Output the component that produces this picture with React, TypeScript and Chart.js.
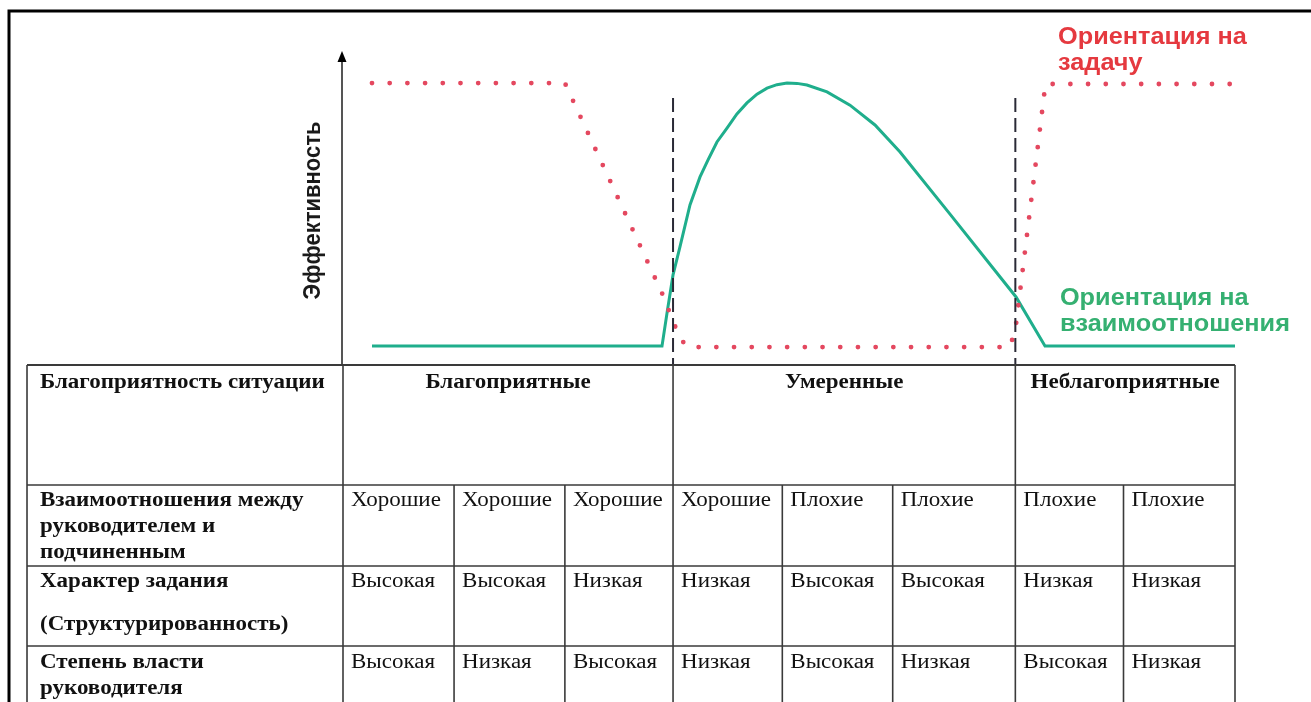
import React, { useEffect, useRef } from 'react';
import { Chart, registerables } from 'chart.js';

Chart.register(...registerables);

// ---------- data ----------
const axisTitle = 'Эффективность';
const taskSeriesName = ['Ориентация на', 'задачу'];
const relationSeriesName = ['Ориентация на', 'взаимоотношения'];

// task-oriented leader effectiveness (dotted red)
const taskX = [0.26, 1.99, 2.86, 3.02, 3.09, 5.98, 6.03, 6.3, 8.0];
const taskY = [89.5, 89.5, 22.9, 8.6, 5.7, 5.7, 11.1, 89.2, 89.2];

// relationship-oriented leader effectiveness (solid green)
const relX = [0.26, 2.861, 2.906, 2.96, 3.022, 3.112, 3.202, 3.274, 3.354, 3.444, 3.533, 3.623, 3.713, 3.803, 3.892, 3.982, 4.072, 4.161, 4.341, 4.547, 4.771, 4.996, 5.444, 6.036, 6.296, 8.0];
const relY = [6.0, 6.0, 16.5, 28.6, 37.5, 50.8, 59.7, 65.1, 70.8, 75.2, 79.7, 83.2, 86.0, 87.9, 89.0, 89.5, 89.4, 88.9, 86.7, 82.5, 76.2, 67.6, 47.9, 21.6, 6.0, 6.0];

// zone separators (dashed)
const boundaryX = [2.96, 6.03];
const boundaryTop = 84.8;

// table
const columnEdges = [0, 0.996, 1.99, 2.96, 3.94, 4.93, 6.03, 7.0, 8];
const situationHeader = 'Благоприятность ситуации';
const situationGroups = ['Благоприятные', 'Умеренные', 'Неблагоприятные'];
const groupSpans = [[0, 3], [3, 6], [6, 8]];
const rowLabels = [
  ['Взаимоотношения между', 'руководителем и', 'подчиненным'],
  ['Характер задания', '(Структурированность)'],
  ['Степень власти', 'руководителя'],
];
const relations = ['Хорошие', 'Хорошие', 'Хорошие', 'Хорошие', 'Плохие', 'Плохие', 'Плохие', 'Плохие'];
const taskStructure = ['Высокая', 'Высокая', 'Низкая', 'Низкая', 'Высокая', 'Высокая', 'Низкая', 'Низкая'];
const positionPower = ['Высокая', 'Низкая', 'Высокая', 'Низкая', 'Высокая', 'Низкая', 'Высокая', 'Низкая'];
const rowValues = [relations, taskStructure, positionPower];

// ---------- layout / style ----------
const W = 1311;
const H = 702;
const SERIF = '"Liberation Serif", "Times New Roman", serif';
const SANS = '"Liberation Sans", Arial, sans-serif';
const RED_DOT = '#e4485f';
const RED_TEXT = '#e5393f';
const GREEN_LINE = '#1fae8c';
const GREEN_TEXT = '#35b071';
const labelColumnLeft = -2.834;
const headerRowHeight = 120;
const rowHeights = [81, 80, 80];
const rowLineOffsets = [[21, 47, 73], [21, 64], [22, 48]];
const serifStretch = 1.15;
const sansStretch = 1.1;
const taskLabelAnchor = { x: 6.413, y: 101.9 };
const relLabelAnchor = { x: 6.43, y: 19.05 };
const labelLineGap = 26;

function sText(ctx: CanvasRenderingContext2D, text: string, x: number, y: number, align: CanvasTextAlign, sx: number) {
  ctx.save();
  ctx.translate(x, y);
  ctx.scale(sx, 1);
  ctx.textAlign = align;
  ctx.fillText(text, 0, 0);
  ctx.restore();
}

const overlayPlugin = {
  id: 'fiedlerOverlay',
  beforeDatasetsDraw(chart: any) {
    const { ctx, chartArea, scales } = chart;
    const xs = scales.x;
    ctx.save();
    // outer frame
    ctx.strokeStyle = '#000';
    ctx.lineWidth = 3;
    ctx.strokeRect(9, 11, chart.width + 40, chart.height + 40);
    // y axis with arrow
    const ax = xs.getPixelForValue(0) - 1;
    ctx.strokeStyle = '#555';
    ctx.lineWidth = 2;
    ctx.beginPath();
    ctx.moveTo(ax, chartArea.bottom);
    ctx.lineTo(ax, chartArea.top + 8);
    ctx.stroke();
    ctx.fillStyle = '#000';
    ctx.beginPath();
    ctx.moveTo(ax, chartArea.top + 1);
    ctx.lineTo(ax - 4.5, chartArea.top + 12);
    ctx.lineTo(ax + 4.5, chartArea.top + 12);
    ctx.closePath();
    ctx.fill();
    // axis title
    ctx.save();
    ctx.translate(ax - 29, (chartArea.top + chartArea.bottom) / 2 + 3);
    ctx.scale(sansStretch, 1);
    ctx.rotate(-Math.PI / 2);
    ctx.fillStyle = '#1a1a1a';
    ctx.font = `bold 22px ${SANS}`;
    ctx.textAlign = 'center';
    ctx.textBaseline = 'middle';
    ctx.fillText(axisTitle, 0, 0);
    ctx.restore();
    ctx.restore();
  },
  afterDatasetsDraw(chart: any) {
    const { ctx, chartArea, scales } = chart;
    const xs = scales.x;
    const ys = scales.y;
    ctx.save();
    const left = xs.getPixelForValue(labelColumnLeft);
    const edges = columnEdges.map((v) => xs.getPixelForValue(v));
    const top = chartArea.bottom;
    const rowTops = [top, top + headerRowHeight];
    rowHeights.forEach((h) => rowTops.push(rowTops[rowTops.length - 1] + h));
    const bottom = rowTops[rowTops.length - 1];
    const right = edges[edges.length - 1];

    ctx.strokeStyle = '#3a3a3a';
    // horizontals
    for (let i = 0; i < rowTops.length - 1; i++) {
      ctx.lineWidth = i === 0 ? 2 : 1.6;
      ctx.beginPath();
      ctx.moveTo(left, rowTops[i]);
      ctx.lineTo(right, rowTops[i]);
      ctx.stroke();
    }
    ctx.lineWidth = 1.6;
    // outer verticals + group boundaries (full height)
    const fullV = [left, edges[0], edges[3], edges[6], right];
    fullV.forEach((x) => {
      ctx.beginPath();
      ctx.moveTo(x, top);
      ctx.lineTo(x, bottom);
      ctx.stroke();
    });
    // inner column lines below header
    edges.forEach((x, i) => {
      if (i === 0 || i === 3 || i === 6 || i === edges.length - 1) return;
      ctx.beginPath();
      ctx.moveTo(x, rowTops[1]);
      ctx.lineTo(x, bottom);
      ctx.stroke();
    });

    ctx.fillStyle = '#111';
    ctx.textBaseline = 'alphabetic';
    // header row
    ctx.font = `bold 20px ${SERIF}`;
    sText(ctx, situationHeader, left + 13, top + 23, 'left', serifStretch);
    situationGroups.forEach((g, i) => {
      const cx = (edges[groupSpans[i][0]] + edges[groupSpans[i][1]]) / 2;
      sText(ctx, g, cx, top + 23, 'center', serifStretch);
    });
    // body rows
    rowLabels.forEach((lines, r) => {
      const rt = rowTops[r + 1];
      ctx.font = `bold 20px ${SERIF}`;
      lines.forEach((ln, k) => sText(ctx, ln, left + 13, rt + rowLineOffsets[r][k], 'left', serifStretch));
      ctx.font = `20px ${SERIF}`;
      rowValues[r].forEach((v, c) => sText(ctx, v, edges[c] + 8, rt + rowLineOffsets[r][0], 'left', serifStretch));
    });

    // series labels
    ctx.font = `bold 23px ${SANS}`;
    ctx.fillStyle = RED_TEXT;
    const tx = xs.getPixelForValue(taskLabelAnchor.x);
    const ty = ys.getPixelForValue(taskLabelAnchor.y);
    taskSeriesName.forEach((ln, k) => sText(ctx, ln, tx, ty + k * labelLineGap, 'left', sansStretch));
    ctx.fillStyle = GREEN_TEXT;
    const gx = xs.getPixelForValue(relLabelAnchor.x);
    const gy = ys.getPixelForValue(relLabelAnchor.y);
    relationSeriesName.forEach((ln, k) => sText(ctx, ln, gx, gy + k * labelLineGap, 'left', sansStretch));
    ctx.restore();
  },
};

export default function App() {
  const canvasRef = useRef<HTMLCanvasElement | null>(null);

  useEffect(() => {
    document.body.style.margin = '0';
    document.body.style.overflow = 'hidden';
    const canvas = canvasRef.current;
    if (!canvas) return;
    const toPts = (xs: number[], ys: number[]) => xs.map((x, i) => ({ x, y: ys[i] }));
    const boundaryDatasets = boundaryX.map((bx) => ({
      label: 'boundary',
      data: [{ x: bx, y: boundaryTop }, { x: bx, y: 0 }],
      borderColor: '#2a2a36',
      borderWidth: 2,
      borderDash: [14, 6],
      pointRadius: 0,
      tension: 0,
    }));
    const chart = new Chart(canvas, {
      type: 'line',
      data: {
        datasets: [
          ...boundaryDatasets,
          {
            label: taskSeriesName.join(' '),
            data: toPts(taskX, taskY),
            borderColor: RED_DOT,
            borderWidth: 4.8,
            borderDash: [0, 17.7],
            borderCapStyle: 'round',
            pointRadius: 0,
            tension: 0,
          },
          {
            label: relationSeriesName.join(' '),
            data: toPts(relX, relY),
            borderColor: GREEN_LINE,
            borderWidth: 3,
            pointRadius: 0,
            tension: 0,
          },
        ] as any,
      },
      options: {
        responsive: false,
        animation: false,
        devicePixelRatio: 1,
        layout: { padding: { left: 343, right: W - 1235, top: 50, bottom: H - 365 } },
        scales: {
          x: { type: 'linear', min: 0, max: 8, display: false },
          y: { type: 'linear', min: 0, max: 100, display: false },
        },
        plugins: { legend: { display: false }, tooltip: { enabled: false } },
        events: [],
      } as any,
      plugins: [overlayPlugin],
    });
    return () => chart.destroy();
  }, []);

  return (
    <div style={{ position: 'fixed', left: 0, top: 0, width: W, height: H, overflow: 'hidden', background: '#fff' }}>
      <canvas ref={canvasRef} width={W} height={H} style={{ display: 'block', width: W, height: H }} />
    </div>
  );
}
